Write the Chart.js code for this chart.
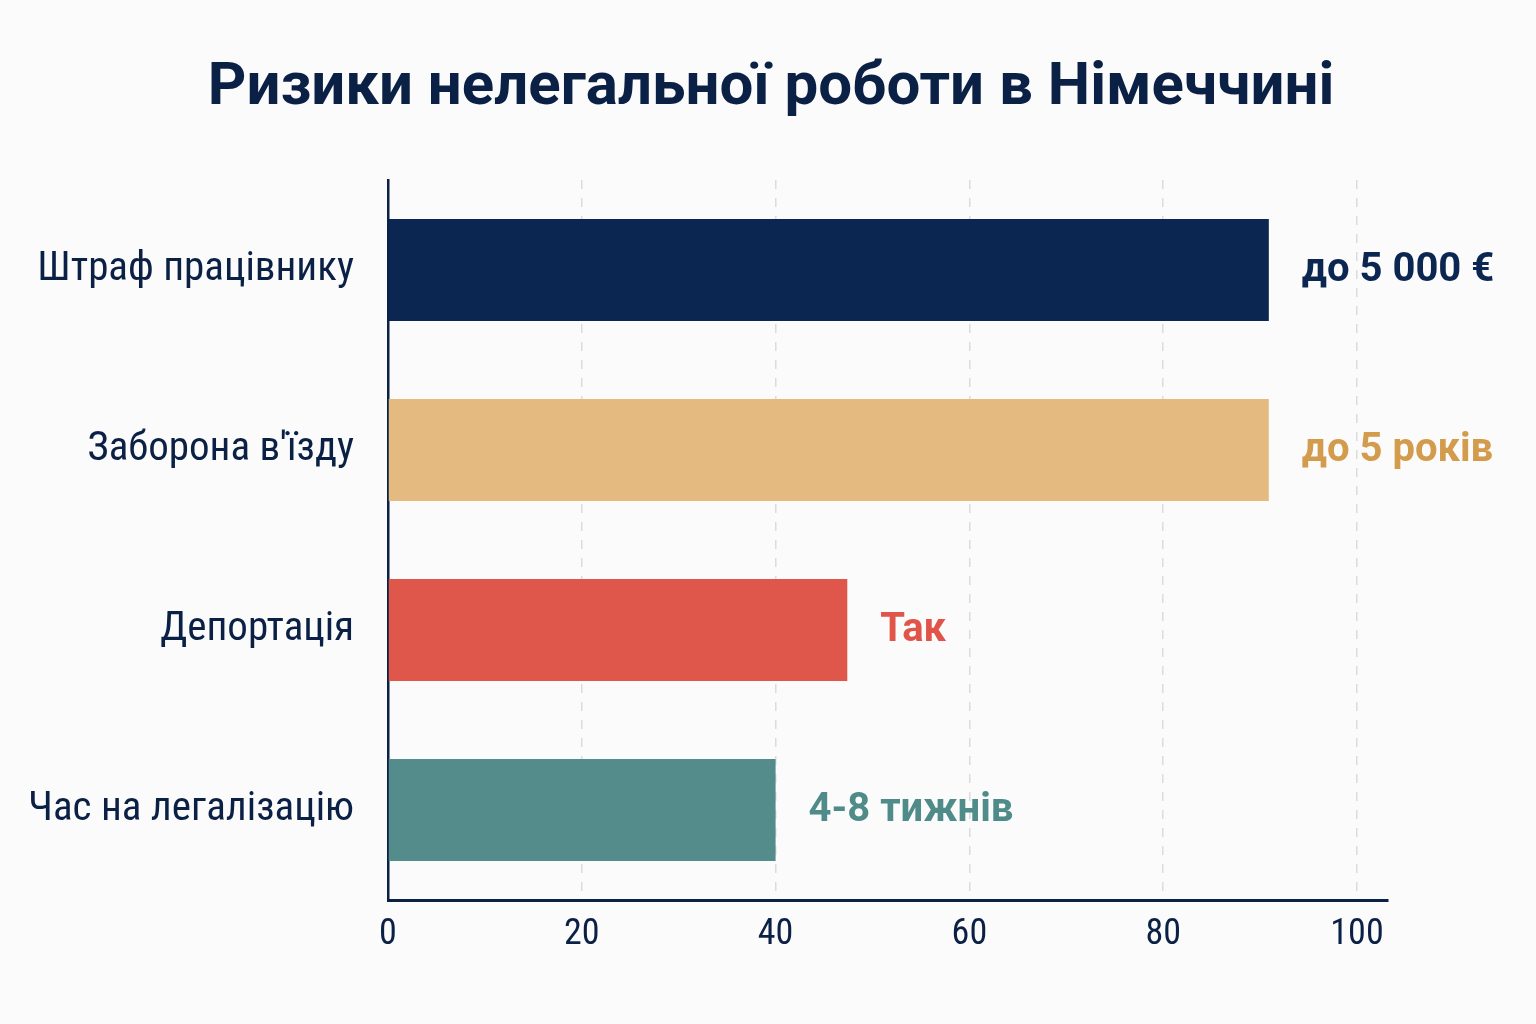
<!DOCTYPE html>
<html lang="uk">
<head>
<meta charset="utf-8">
<title>Ризики нелегальної роботи в Німеччині</title>
<script src="https://cdn.jsdelivr.net/npm/chart.js@4.4.1/dist/chart.umd.min.js"></script>
<style>
  html, body { margin: 0; padding: 0; background: #fbfbfb; }
  #wrap { width: 1536px; height: 1024px; }
</style>
</head>
<body>
<div id="wrap"><canvas id="chart" width="1536" height="1024"></canvas></div>
<script>
const title = 'Ризики нелегальної роботи в Німеччині';
const categories = ['Штраф працівнику', "Заборона в'їзду", 'Депортація', 'Час на легалізацію'];
const values = [90.9, 90.9, 47.4, 40];
const valueLabels = ['до 5 000 €', 'до 5 років', 'Так', '4-8 тижнів'];
const barColors = ['#0b2650', '#e5ba80', '#df564b', '#548c8c'];
const labelColors = ['#0b2650', '#d39b4c', '#e0544a', '#4e8b89'];
const xTicks = [0, 20, 40, 60, 80, 100];

const ink = '#0b2045';
const narrow = "'Noto Sans Condensed', 'Roboto Condensed', Roboto";

// heading, centred on the whole canvas
const heading = {
    id: 'heading',
    afterDraw(chart) {
        const ctx = chart.ctx;
        ctx.save();
        ctx.font = 'bold 60px Roboto';
        ctx.fillStyle = ink;
        ctx.textAlign = 'center';
        ctx.textBaseline = 'alphabetic';
        ctx.fillText(title, 771, 104);
        ctx.restore();
    }
};

// text at the end of each bar
const barLabels = {
    id: 'barLabels',
    afterDatasetsDraw(chart) {
        const ctx = chart.ctx;
        const meta = chart.getDatasetMeta(0);
        ctx.save();
        ctx.font = 'bold 40px Roboto';
        ctx.textBaseline = 'middle';
        ctx.textAlign = 'left';
        meta.data.forEach((bar, i) => {
            ctx.fillStyle = labelColors[i];
            ctx.fillText(valueLabels[i], bar.x + 33, bar.y + 1);
        });
        ctx.restore();
    }
};

new Chart(document.getElementById('chart'), {
    type: 'bar',
    data: {
        labels: categories,
        datasets: [{
            data: values,
            backgroundColor: barColors,
            borderWidth: 0,
            barPercentage: 0.567,
            categoryPercentage: 1
        }]
    },
    options: {
        indexAxis: 'y',
        responsive: false,
        animation: false,
        layout: { padding: { top: 180, left: 0, right: 148, bottom: 0 } },
        plugins: {
            legend: { display: false },
            tooltip: { enabled: false },
            title: { display: false }
        },
        scales: {
            x: {
                min: 0,
                max: 103.2,
                afterFit(scale) { scale.height = 124; },
                afterBuildTicks(scale) { scale.ticks = xTicks.map(v => ({ value: v })); },
                ticks: {
                    color: ink,
                    padding: 13,
                    font: { family: narrow, size: 36 }
                },
                grid: { color: '#dcdcdc', lineWidth: 1.5, drawTicks: false },
                border: { display: true, color: ink, width: 3, dash: [9, 9] }
            },
            y: {
                afterFit(scale) { scale.width = 388; },
                ticks: {
                    color: ink,
                    padding: 34,
                    font: { family: narrow, size: 41 }
                },
                grid: { display: false, drawTicks: false },
                border: { display: true, color: ink, width: 2.5 }
            }
        }
    },
    plugins: [heading, barLabels]
});
</script>
</body>
</html>
